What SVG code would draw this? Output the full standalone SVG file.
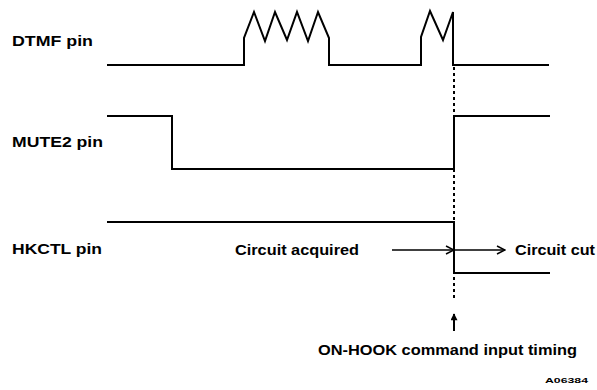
<svg xmlns="http://www.w3.org/2000/svg" width="597" height="390" viewBox="0 0 597 390">
<style>
.sig{fill:none;stroke:#000;stroke-width:2;stroke-linejoin:miter}
.lbl{font-family:"Liberation Sans",Arial,sans-serif;font-weight:bold;font-size:15px;fill:#000}
.arr{fill:none;stroke:#000;stroke-width:1.5}
</style>
<defs>
<marker id="chev" viewBox="0 0 10 10" refX="9" refY="5" markerWidth="10" markerHeight="10" markerUnits="userSpaceOnUse" orient="auto">
<path d="M1,1 L9,5 L1,9" fill="none" stroke="#000" stroke-width="1.5"/>
</marker>
<marker id="up" viewBox="0 0 10 10" refX="5" refY="1" markerWidth="7" markerHeight="8" markerUnits="userSpaceOnUse" orient="0">
<path d="M5,0 L10,10 L0,10 Z" fill="#000"/>
</marker>
</defs>
<g id="dtmf">
<text class="lbl" x="12" y="46" textLength="81" lengthAdjust="spacingAndGlyphs">DTMF pin</text>
<path class="sig" d="M107,65 H244 V38 L254,12 L265,41 L275,12 L287,40 L297,12 L308,41 L318,12 L329,38 V65 H421 V37 L430,11 L443,40 L453,12 V65 H549"/>
</g>
<g id="mute2">
<text class="lbl" x="12" y="147" textLength="91" lengthAdjust="spacingAndGlyphs">MUTE2 pin</text>
<path class="sig" d="M107,116 H172 V169 H454 V116 H550"/>
</g>
<g id="hkctl">
<text class="lbl" x="12" y="254" textLength="90" lengthAdjust="spacingAndGlyphs">HKCTL pin</text>
<path class="sig" d="M107,222 H454 V273 H550"/>
</g>
<g id="labels">
<text class="lbl" x="235" y="255" textLength="124" lengthAdjust="spacingAndGlyphs">Circuit acquired</text>
<text class="lbl" x="515" y="255" textLength="80" lengthAdjust="spacingAndGlyphs">Circuit cut</text>
<text class="lbl" x="318" y="355" textLength="259" lengthAdjust="spacingAndGlyphs">ON-HOOK command input timing</text>
<text x="545" y="383" font-family="Liberation Sans,Arial,sans-serif" font-weight="bold" font-size="8" textLength="43" lengthAdjust="spacingAndGlyphs">A06384</text>
</g>
<g id="connectors">
<line x1="454" y1="67" x2="454" y2="298" stroke="#000" stroke-width="2" stroke-dasharray="3,3"/>
<line class="arr" x1="392" y1="250" x2="454" y2="250" marker-end="url(#chev)"/>
<line class="arr" x1="454" y1="250" x2="505" y2="250" marker-end="url(#chev)"/>
<line x1="454" y1="331" x2="454" y2="314" stroke="#000" stroke-width="2" marker-end="url(#up)"/>
</g>
</svg>
